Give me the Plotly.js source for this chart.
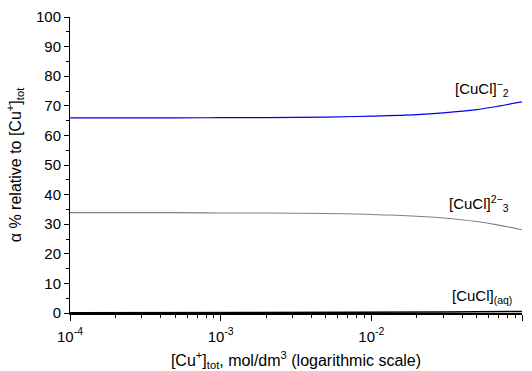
<!DOCTYPE html>
<html><head><meta charset="utf-8">
<script src="https://cdn.plot.ly/plotly-3.0.1.min.js"></script>
<style>html,body{margin:0;padding:0;background:#fff}#c{width:532px;height:371px}</style>
</head><body><div id="c"></div>
<script>
const conc = [1e-4, 2e-4, 5e-4, 1e-3, 2e-3, 5e-3, 1e-2, 2e-2, 3e-2, 5e-2, 7e-2, 1e-1];
const cucl2 = [65.9, 65.9, 65.9, 66.0, 66.0, 66.2, 66.5, 67.0, 67.6, 68.7, 69.9, 71.3];
const cucl3 = [33.9, 33.9, 33.9, 33.8, 33.8, 33.6, 33.3, 32.7, 32.1, 30.9, 29.7, 28.1];
const cuclaq = [0.1, 0.1, 0.1, 0.1, 0.1, 0.1, 0.2, 0.2, 0.3, 0.4, 0.4, 0.5];
const xTickVals = [1e-4, 1e-3, 1e-2, 1e-1];
const xTickText = ['10<sup>-4</sup>', '10<sup>-3</sup>', '10<sup>-2</sup>', '10<sup>-1</sup>'];
const yTickVals = [0,10,20,30,40,50,60,70,80,90,100];

const font = {family: 'Liberation Sans, Arial, sans-serif', color: '#000'};
const traces = [
  {x: conc, y: cucl2, mode: 'lines', line: {color: '#0000ee', width: 1.2, shape: 'spline'}, hoverinfo: 'none'},
  {x: conc, y: cucl3, mode: 'lines', line: {color: '#808080', width: 1.1, shape: 'spline'}, hoverinfo: 'none'},
  {x: conc, y: cuclaq, mode: 'lines', line: {color: '#000', width: 1.5}, hoverinfo: 'none'}
];
const layout = {
  width: 532, height: 371,
  margin: {l: 70, r: 10, t: 17, b: 58},
  paper_bgcolor: '#fff', plot_bgcolor: '#fff',
  showlegend: false,
  font: Object.assign({size: 15}, font),
  xaxis: {
    type: 'log', range: [-4, -1],
    tickvals: xTickVals, ticktext: xTickText,
    ticks: 'outside', ticklen: 6, tickwidth: 1, tickcolor: '#000',
    ticklabelstandoff: 3,
    showline: true, linecolor: '#000', linewidth: 1.5,
    showgrid: false, zeroline: false,
    minor: {ticks: 'outside', ticklen: 3, tickcolor: '#000', dtick: 'D1', showgrid: false},
    tickfont: Object.assign({size: 15}, font),
    title: {text: '[Cu<sup>+</sup>]<sub>tot</sub>, mol/dm<sup>3</sup> (logarithmic scale)', font: Object.assign({size: 16}, font), standoff: 20}
  },
  yaxis: {
    range: [0, 100],
    tickvals: yTickVals,
    ticks: 'outside', ticklen: 5, tickwidth: 1, tickcolor: '#000',
    showline: true, linecolor: '#000', linewidth: 1,
    showgrid: false, zeroline: false,
    minor: {ticks: 'outside', ticklen: 3, tickcolor: '#000', dtick: 5, showgrid: false},
    tickfont: Object.assign({size: 15}, font),
    title: {text: 'α % relative to [Cu<sup>+</sup>]<sub>tot</sub>', font: Object.assign({size: 16}, font), standoff: 10}
  },
  annotations: [
    {x: -1.07, y: 76, xref: 'x', yref: 'y', text: '[CuCl]<sup>−</sup><sub>2</sub>', showarrow: false, xanchor: 'right', font: Object.assign({size: 15}, font)},
    {x: -1.07, y: 37, xref: 'x', yref: 'y', text: '[CuCl]<sup>2−</sup><sub>3</sub>', showarrow: false, xanchor: 'right', font: Object.assign({size: 15}, font)},
    {x: -1.05, y: 5.5, xref: 'x', yref: 'y', text: '[CuCl]<sub>(aq)</sub>', showarrow: false, xanchor: 'right', font: Object.assign({size: 15}, font)}
  ]
};
Plotly.newPlot('c', traces, layout, {staticPlot: true});
</script></body></html>
